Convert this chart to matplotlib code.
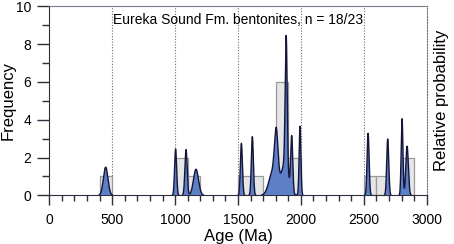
import numpy as np
import matplotlib.pyplot as plt

plt.rcParams['font.family'] = ['Liberation Sans', 'DejaVu Sans']

# histogram (bin width 100 Ma)
bin_left = [400, 1000, 1100, 1500, 1600, 1800, 1900, 2500, 2600, 2800]
bin_count = [1, 2, 1, 1, 1, 6, 2, 1, 1, 2]

# probability density peaks: centre (Ma), height, width (Ma)
peak_age = [448, 1004, 1087, 1166, 1527, 1614, 1775, 1804, 1870, 1883, 1927, 1993,
            2534, 2690, 2804, 2844]
peak_amp = [1.49, 2.45, 2.42, 1.38, 2.75, 3.1, 1.2, 2.7, 1.6, 7.0, 2.9, 3.65,
            3.28, 2.98, 4.05, 2.6]
peak_sig = [18, 8, 9, 20, 8, 8, 30, 14, 30, 8, 8, 7,
            8, 8, 7, 10]

ages = np.linspace(0, 3000, 3001)
pdp = np.zeros_like(ages)
for c, a, s in zip(peak_age, peak_amp, peak_sig):
    pdp += a * np.exp(-0.5 * ((ages - c) / s) ** 2)

fig = plt.figure(figsize=(4.54, 2.44), dpi=100)
ax = fig.add_axes([0.1086, 0.1996, 0.8313, 0.7745])

dark = '#2e2e3e'
for xv in [500, 1000, 1500, 2000, 2500]:
    ax.axvline(xv, color='#707070', lw=0.8, ls=(0, (1, 1.5)), zorder=1)

ax.bar(bin_left, bin_count, width=100, align='edge', color='#e6e6e6',
       edgecolor='#9a9a9a', lw=0.9, zorder=2)
ax.fill_between(ages, 0, pdp, where=pdp > 0.02, color='#5d7fc6', lw=0, zorder=3)
ax.plot(ages, np.where(pdp > 0.02, pdp, np.nan), color='#15153a', lw=1.0, zorder=4)

ax.set_xlim(0, 3000)
ax.set_ylim(0, 10)
ax.set_xticks(range(0, 3001, 500))
ax.set_xticks(range(0, 3001, 100), minor=True)
ax.set_yticks(range(0, 11, 2))
ax.set_yticks(range(1, 10, 2), minor=True)
ax.tick_params(axis='x', which='major', length=7, width=1, pad=6, labelsize=10, color=dark)
ax.tick_params(axis='x', which='minor', length=4.3, width=1, color=dark)
ax.tick_params(axis='y', which='major', length=9, width=1, pad=4, labelsize=10, color=dark)
ax.tick_params(axis='y', which='minor', length=5, width=1, color=dark)

ax.spines['left'].set_color(dark)
ax.spines['bottom'].set_color(dark)
ax.spines['top'].set_color('#7a7a8a')
ax.spines['right'].set_color('#707070')
ax.spines['right'].set_linestyle((0, (1, 1.5)))
ax.spines['right'].set_linewidth(0.8)

ax.set_xlabel('Age (Ma)', fontsize=12, labelpad=1)
ax.set_ylabel('Frequency', fontsize=12)
ax.yaxis.set_label_coords(-0.088, 0.5)
ax2 = ax.twinx()
ax2.set_yticks([])
for sp in ax2.spines.values():
    sp.set_visible(False)
ax2.set_ylabel('Relative probability', fontsize=12, labelpad=5)

ax.text(0.5, 0.965, 'Eureka Sound Fm. bentonites, n = 18/23', transform=ax.transAxes,
        ha='center', va='top', fontsize=10)

fig.savefig('out.png', dpi=100)
